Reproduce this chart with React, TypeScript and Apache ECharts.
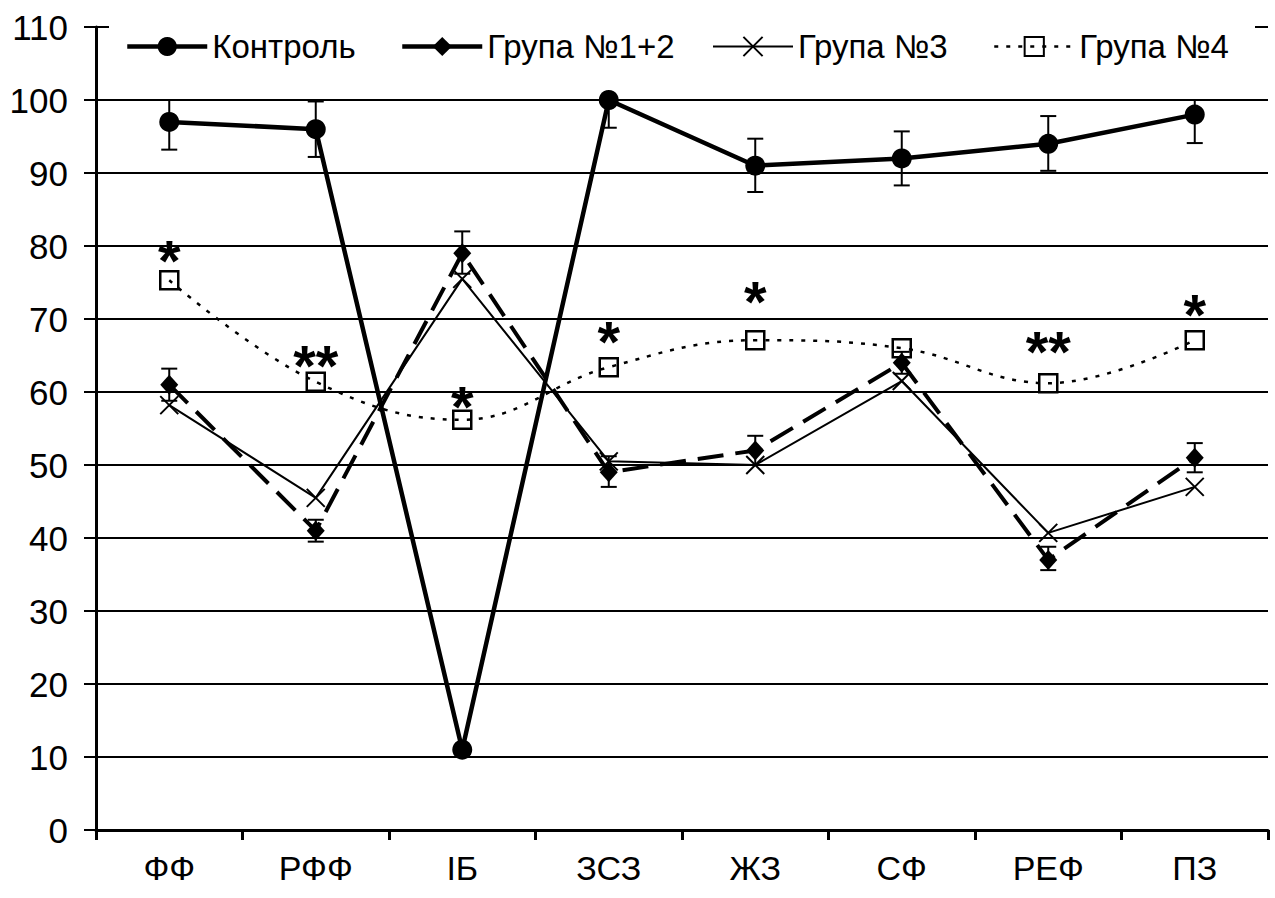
import React, { useEffect, useRef } from "react";
import * as echarts from "echarts";

const categories = ["ФФ", "РФФ", "ІБ", "ЗСЗ", "ЖЗ", "СФ", "РЕФ", "ПЗ"];
const control = [97, 96, 11, 100, 91, 92, 94, 98];
const controlLow = [93.2, 92.2, 11, 96.2, 87.4, 88.3, 90.3, 94.1];
const controlHigh = [100, 99.8, 11, 100, 94.7, 95.7, 97.8, 100];
const group12 = [61, 41, 79, 49, 52, 64, 37, 51];
const group12Low = [58.8, 39.5, 76.2, 47, 50, 62.5, 35.6, 49];
const group12High = [63.2, 42.5, 82, 51.2, 54, 65.5, 38.8, 53];
const group3 = [58.2, 45.5, 75.5, 50.5, 50, 61.5, 40.7, 47];
const group4 = [75.3, 61.4, 56.2, 63.4, 67.1, 66, 61.2, 67.1];
const starCats = [0, 1, 2, 3, 4, 6, 7];
const starValues = [80, 65.5, 60, 68.9, 74.3, 67.4, 72.6];
const starTexts = ["*", "**", "*", "*", "*", "**", "*"];
const seriesNames = ["Контроль", "Група №1+2", "Група №3", "Група №4"];

const FONT = "'Liberation Sans', Arial, sans-serif";
const CROSS = "path://M0,0L10,10M10,0L0,10";
const SQUARE = "path://M0,0H10V10H0Z";

function errData(low: number[], high: number[]) {
  return low.map((l, i) => [i, l, high[i]]);
}

function renderErr(params: any, api: any) {
  const x = api.value(0);
  const lo = api.coord([x, api.value(1)]);
  const hi = api.coord([x, api.value(2)]);
  const hw = 8;
  const st = { stroke: "#000", lineWidth: 2 };
  return {
    type: "group",
    children: [
      { type: "line", shape: { x1: lo[0], y1: lo[1], x2: hi[0], y2: hi[1] }, style: st },
      { type: "line", shape: { x1: lo[0] - hw, y1: lo[1], x2: lo[0] + hw, y2: lo[1] }, style: st },
      { type: "line", shape: { x1: hi[0] - hw, y1: hi[1], x2: hi[0] + hw, y2: hi[1] }, style: st },
    ],
  };
}

export default function App() {
  const ref = useRef<HTMLDivElement>(null);
  useEffect(() => {
    if (!ref.current) return;
    const chart = echarts.init(ref.current, null, { renderer: "svg" });
    const legendBase = {
      top: 30,
      padding: 0,
      itemWidth: 80,
      itemHeight: 24,
      itemGap: 0,
      textStyle: { fontSize: 33, fontFamily: FONT, color: "#000" },
      z: 20,
    };
    chart.setOption({
      animation: false,
      backgroundColor: "#fff",
      grid: { left: 96, right: 7, top: 27, bottom: 68, containLabel: false },
      graphic: [
        {
          type: "rect",
          z: 10,
          shape: { x: 109, y: 20, width: 1146, height: 14 },
          style: { fill: "#fff" },
        },
      ],
      legend: [
        {
          ...legendBase,
          left: 125,
          data: [{ name: seriesNames[0], lineStyle: { width: 4.5 } }],
        },
        {
          ...legendBase,
          left: 400,
          data: [{ name: seriesNames[1], lineStyle: { type: "solid", width: 4.5 } }],
        },
        {
          ...legendBase,
          left: 712,
          data: [{ name: seriesNames[2], lineStyle: { width: 2 } }],
        },
        {
          ...legendBase,
          left: 993,
          data: [{ name: seriesNames[3], lineStyle: { width: 2.5 } }],
        },
      ],
      xAxis: {
        type: "category",
        data: categories,
        boundaryGap: true,
        axisLine: { lineStyle: { color: "#000", width: 3 } },
        axisTick: { show: true, length: 10, lineStyle: { color: "#000", width: 3 } },
        axisLabel: { color: "#000", fontSize: 34, fontFamily: FONT, margin: 21 },
        splitLine: { show: false },
      },
      yAxis: {
        type: "value",
        min: 0,
        max: 110,
        interval: 10,
        axisLine: { show: true, lineStyle: { color: "#000", width: 3 } },
        axisTick: { show: true, length: 12, lineStyle: { color: "#000", width: 2 } },
        axisLabel: { color: "#000", fontSize: 35, fontFamily: FONT, margin: 28 },
        splitLine: { show: true, lineStyle: { color: "#000", width: 2 } },
      },
      series: [
        {
          type: "custom",
          renderItem: renderErr,
          data: errData(controlLow, controlHigh),
          encode: { x: 0, y: [1, 2] },
          z: 1,
          silent: true,
        },
        {
          type: "custom",
          renderItem: renderErr,
          data: errData(group12Low, group12High),
          encode: { x: 0, y: [1, 2] },
          z: 1,
          silent: true,
        },
        {
          name: seriesNames[3],
          type: "line",
          data: group4,
          smooth: 0.4,
          symbol: SQUARE,
          symbolSize: 18,
          itemStyle: { color: "rgba(0,0,0,0)", borderColor: "#000", borderWidth: 2.5 },
          lineStyle: { color: "#000", width: 2.5, type: [4, 8] },
          z: 2,
        },
        {
          name: seriesNames[2],
          type: "line",
          data: group3,
          symbol: CROSS,
          symbolSize: 18,
          itemStyle: { color: "#000", borderColor: "#000", borderWidth: 2 },
          lineStyle: { color: "#000", width: 2 },
          z: 3,
        },
        {
          name: seriesNames[1],
          type: "line",
          data: group12,
          symbol: "diamond",
          symbolSize: [18, 20],
          itemStyle: { color: "#000" },
          lineStyle: { color: "#000", width: 4, type: [26, 12] },
          z: 4,
        },
        {
          name: seriesNames[0],
          type: "line",
          data: control,
          symbol: "circle",
          symbolSize: 20,
          itemStyle: { color: "#000" },
          lineStyle: { color: "#000", width: 4.5 },
          z: 5,
        },
        {
          type: "scatter",
          data: starCats.map((c, i) => [c, starValues[i], starTexts[i]]),
          symbolSize: 0,
          silent: true,
          z: 6,
          itemStyle: { color: "#000", opacity: 1 },
          label: {
            show: true,
            position: "inside",
            formatter: (p: any) => p.value[2],
            fontSize: 58,
            fontWeight: "bold",
            fontFamily: FONT,
            color: "#000",
            opacity: 1,
            textBorderWidth: 0,
            offset: [0, 14],
          },
        },
      ],
    });
    return () => chart.dispose();
  }, []);
  return (
    <div
      ref={ref}
      style={{ position: "absolute", left: 0, top: 0, width: 1275, height: 898 }}
    />
  );
}
